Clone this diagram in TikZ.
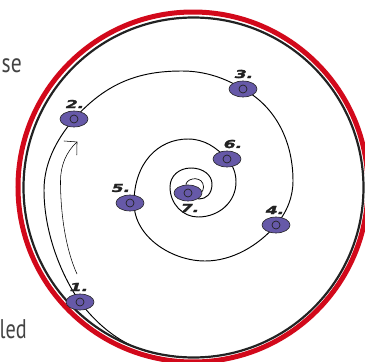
\documentclass[tikz,border=0pt]{standalone}
\usepackage{graphicx}
\usepackage{fontspec}
\setmainfont{PT Sans}
\newfontfamily\numfont[BoldItalicFeatures={FakeBold=2}]{DejaVu Sans}
\usetikzlibrary{backgrounds,arrows.meta,shapes.geometric}
\definecolor{ringred}{HTML}{D2091B}
\definecolor{stoppurple}{HTML}{6659A8}
\definecolor{inkdark}{HTML}{222222}
\tikzset{
  stopnode/.style={ellipse,draw=inkdark,line width=0.6pt,fill=stoppurple,minimum width=28pt,minimum height=16pt,inner sep=0pt,outer sep=0pt},
  hole/.style={circle,draw=inkdark,line width=0.7pt,minimum size=8pt,inner sep=0pt,outer sep=0pt},
  numlabel/.style={text=inkdark,inner sep=0pt,font=\numfont\bfseries\itshape\fontsize{11}{12}\selectfont},
  spiral/.style={draw=black,line width=0.95pt,line join=round},
  sidetext/.style={text=inkdark!85,inner sep=0pt,font=\fontsize{27}{29}\selectfont}
}
\newcommand{\stopat}[3]{%
  \node[stopnode] (n#1) at (#2,#3) {};
  \node[hole] (h#1) at (#2,#3) {};
  }
\newcommand{\wide}[1]{\scalebox{1.55}[1]{#1}}
\begin{document}
\begin{tikzpicture}[x=1pt,y=-1pt]
\useasboundingbox (0,0) rectangle (365,362);
\clip (0,0) rectangle (365,362);
\node[sidetext,anchor=base east] (tse) at (22,72) {\scalebox{0.8}[1]{se}};
\node[sidetext,anchor=base east] (tled) at (27,338) {\scalebox{0.75}[1]{led}};
\node[sidetext,anchor=base west] (tt) at (-4,376) {\scalebox{0.75}[1]{t}};
\coordinate (ringcentre) at (193.5,187.5);
\coordinate (redcentre) at (193,187);
\node[circle,draw=ringred,line width=5pt,minimum size=350pt,inner sep=0pt,outer sep=0pt] (redring) at (redcentre) {};
\node[circle,draw=inkdark,line width=2.2pt,minimum size=340pt,inner sep=0pt,outer sep=0pt] (blackring) at (ringcentre) {};
\stopat{1}{80}{302}
\stopat{2}{74}{119}
\stopat{3}{243}{89}
\stopat{4}{276}{225}
\stopat{5}{130}{203}
\stopat{6}{227}{159}
\stopat{7}{188}{193}
\coordinate (tail) at (170,355.6);
\coordinate (passfive) at ([xshift=4pt]n5.center);
\begin{scope}[on background layer]
\draw[spiral] (tail)
  .. controls (132,353) and (102,331) .. (n1.center)
  .. controls (63,278) and (44,235) .. (44,190)
  .. controls (44,165) and (55,141) .. (n2.center)
  .. controls (107,82) and (140,71) .. (182,71)
  .. controls (205,71) and (225,78) .. (n3.center)
  .. controls (273,105) and (293,138) .. (293,181)
  .. controls (293,197) and (287,212) .. (n4.center)
  .. controls (258,246) and (232,261) .. (205,261)
  .. controls (172,261) and (134,237) .. (passfive)
  .. controls (134,163) and (158,139) .. (188,139)
  .. controls (204,139) and (216,147) .. (n6.center)
  .. controls (233,165) and (236,173) .. (236,182)
  .. controls (236,202) and (219,217) .. (198,217)
  .. controls (183,217) and (170,204) .. (170,187)
  .. controls (170,176) and (179,168) .. (191,168)
  .. controls (203,168) and (212,175) .. (212,184)
  .. controls (212,194) and (206,199) .. (199,199)
  -- (n7.center);
\draw[spiral,line width=0.7pt] (n7.center) -- (186,184)
  .. controls (188,177) and (203.5,176) .. (203.5,187)
  .. controls (203.5,192) and (200,197) .. (n7.center);
\end{scope}
\coordinate (arrowstart) at (77,274);
\coordinate (arrowend) at (77.3,141.7);
\draw[line width=0.55pt,-{Straight Barb[length=9pt,width=19pt]}] (arrowstart)
  .. controls (66,250) and (60.5,215) .. (60.5,181)
  .. controls (60.5,166) and (66,152) .. (arrowend);
\node[numlabel] (l1) at (79,287) {\wide{1.}};
\node[numlabel] (l2) at (75,104) {\wide{2.}};
\node[numlabel] (l3) at (244,74) {\wide{3.}};
\node[numlabel] (l4) at (275,210) {\wide{4.}};
\node[numlabel] (l5) at (121,188) {\wide{5.}};
\node[numlabel] (l6) at (233,144) {\wide{6.}};
\node[numlabel] (l7) at (190,208) {\wide{7.}};
\end{tikzpicture}
\end{document}
